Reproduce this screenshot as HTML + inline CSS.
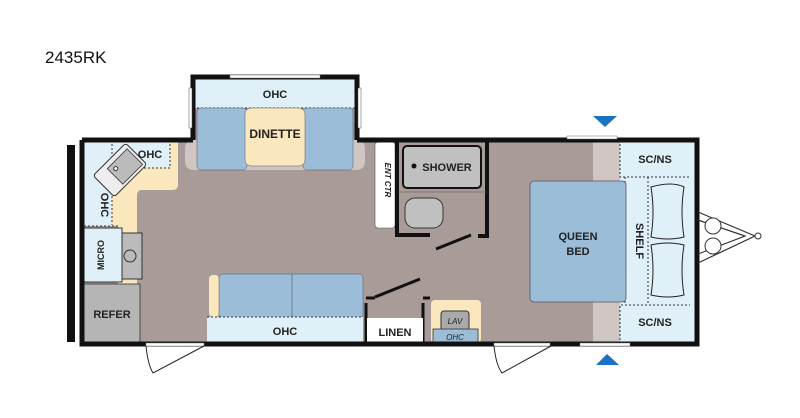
<!DOCTYPE html>
<html><head><meta charset="utf-8"><style>
html,body{margin:0;padding:0;background:#fff;}
svg{display:block;}
text{font-family:"Liberation Sans",Arial,sans-serif;font-weight:bold;fill:#222;}
</style></head><body>
<svg width="800" height="418" viewBox="0 0 800 418" xmlns="http://www.w3.org/2000/svg">
<text x="45" y="63" style="font-weight:normal;font-size:17px;fill:#111">2435RK</text>

<!-- floor -->
<rect x="84" y="140" width="612" height="204" fill="#a99b98"/>
<rect x="193" y="77" width="164" height="66" fill="#a99b98"/>
<rect x="185" y="140" width="180" height="30" rx="8" fill="#cfc5c3"/>
<rect x="193" y="79" width="164" height="29" fill="#dff0f9"/>
<line x1="193" y1="108" x2="357" y2="108" stroke="#333" stroke-width="1" stroke-dasharray="2,2"/>
<text x="275" y="98" font-size="11" text-anchor="middle">OHC</text>
<rect x="197" y="108" width="50" height="62" rx="4" fill="#9bbdd8" stroke="#556" stroke-width="0.5"/>
<rect x="303" y="108" width="50" height="62" rx="4" fill="#9bbdd8" stroke="#556" stroke-width="0.5"/>
<rect x="245" y="108" width="60" height="58" rx="6" fill="#fbe7bd" stroke="#556" stroke-width="0.5"/>
<text x="275" y="138" font-size="12" text-anchor="middle">DINETTE</text>

<!-- kitchen -->
<path d="M112 140 H178 V185 Q178 190 172 190 H142 Q137 190 137 196 V290 H118 V226 H112 Z" fill="#fbe7bd"/>
<rect x="84" y="140" width="28" height="86" fill="#dff0f9"/>
<rect x="112" y="140" width="58" height="28" fill="#dff0f9"/>
<path d="M112 140 V225 M112 168 H170 V140" stroke="#333" stroke-width="1" stroke-dasharray="2,2" fill="none"/>
<line x1="84" y1="226" x2="120" y2="226" stroke="#333" stroke-width="1" stroke-dasharray="2,2"/>
<g transform="rotate(-45 120 170)">
<rect x="97" y="155" width="46" height="30" rx="3" fill="#eee" stroke="#333" stroke-width="1"/>
<rect x="112" y="160" width="28" height="22" fill="#bbb" stroke="#333" stroke-width="0.8"/>
<circle cx="118" cy="166" r="2" fill="#fff" stroke="#333"/>
</g>
<text x="150" y="158" font-size="11" text-anchor="middle">OHC</text>
<text x="101" y="205" font-size="11" text-anchor="middle" transform="rotate(90 101 205)">OHC</text>
<rect x="84" y="228" width="38" height="54" fill="#dff0f9" stroke="#333" stroke-width="1"/>
<text x="104" y="255" font-size="9" text-anchor="middle" transform="rotate(-90 104 255)">MICRO</text>
<rect x="122" y="233" width="20" height="46" fill="#bbb" stroke="#333" stroke-width="1"/>
<circle cx="130" cy="256" r="6" fill="none" stroke="#333"/>
<rect x="84" y="284" width="56" height="58" fill="#b5b5b5" stroke="#333" stroke-width="0.8"/>
<text x="112" y="318" font-size="11" text-anchor="middle">REFER</text>

<!-- sofa -->
<rect x="209" y="275" width="10" height="42" rx="4" fill="#fbe7bd"/>
<rect x="219" y="274" width="144" height="44" rx="4" fill="#9bbdd8" stroke="#556" stroke-width="0.5"/>
<line x1="292" y1="274" x2="292" y2="318" stroke="#556" stroke-width="0.6"/>
<rect x="207" y="317" width="156" height="26" fill="#dff0f9"/>
<line x1="207" y1="317" x2="363" y2="317" stroke="#333" stroke-dasharray="2,2"/>
<text x="285" y="335" font-size="11" text-anchor="middle">OHC</text>

<!-- ent ctr -->
<rect x="375" y="142" width="20" height="86" rx="3" fill="#fff" stroke="#555" stroke-width="0.6"/>
<text x="385" y="180" font-size="8" text-anchor="middle" font-style="italic" transform="rotate(90 385 180)">ENT CTR</text>

<!-- bathroom -->
<path d="M397 140 V235 H430 M487 140 V236 H478" stroke="#111" stroke-width="4" fill="none"/>
<line x1="397" y1="192" x2="487" y2="192" stroke="#555" stroke-width="0.6"/>
<rect x="403" y="146" width="78" height="42" rx="4" fill="#c0c0c0" stroke="#111" stroke-width="2"/>
<circle cx="414" cy="166" r="2.5" fill="#111"/>
<text x="447" y="171" font-size="11" text-anchor="middle">SHOWER</text>
<rect x="405" y="198" width="38" height="30" rx="10" fill="#c0c0c0" stroke="#333"/>
<line x1="436" y1="249" x2="471" y2="235" stroke="#111" stroke-width="3"/>
<!-- linen / lav -->
<path d="M366 303 V344 M366 298 H375 M423 303 V344 M423 298 H430" stroke="#111" stroke-width="3" fill="none"/>
<line x1="375" y1="297" x2="420" y2="279" stroke="#111" stroke-width="3"/>
<rect x="367" y="318" width="56" height="25" fill="#fff"/>
<text x="395" y="336" font-size="11" text-anchor="middle">LINEN</text>
<rect x="431" y="300" width="50" height="43" rx="4" fill="#fbe7bd"/>
<rect x="441" y="311" width="28" height="20" rx="3" fill="#aaa" stroke="#333"/>
<text x="455" y="324" font-size="8" text-anchor="middle" style="font-weight:normal;font-style:italic">LAV</text>
<rect x="433" y="329" width="45" height="14" fill="#9bbdd8" stroke="#333" stroke-width="0.8"/>
<text x="455" y="340" font-size="8" text-anchor="middle" style="font-weight:normal;font-style:italic">OHC</text>

<!-- bedroom -->
<rect x="593" y="140" width="27" height="204" fill="#cfc5c3"/>
<rect x="620" y="140" width="76" height="204" fill="#dff0f9"/>
<path d="M620 140 V177 H690 M620 344 V305 H690 M625 177 V305 M648 177 V305" stroke="#333" stroke-dasharray="2,2" fill="none"/>
<rect x="530" y="181" width="96" height="121" rx="4" fill="#9bbdd8" stroke="#556" stroke-width="0.8"/>
<text x="578" y="240" font-size="11" text-anchor="middle">QUEEN</text>
<text x="578" y="255" font-size="11" text-anchor="middle">BED</text>
<text x="636" y="241" font-size="11" text-anchor="middle" transform="rotate(90 636 241)">SHELF</text>
<path d="M651 187 Q672 181 684 187 Q680 212 684 237 Q668 241 651 237 Q655 212 651 187Z" fill="none" stroke="#222"/>
<path d="M651 245 Q668 241 684 245 Q680 270 684 295 Q668 299 651 295 Q655 270 651 245Z" fill="none" stroke="#222"/>
<text x="655" y="163" font-size="11" text-anchor="middle">SC/NS</text>
<text x="655" y="326" font-size="11" text-anchor="middle">SC/NS</text>

<!-- walls -->
<path d="M193 140 V77 H357 V140" stroke="#111" stroke-width="5" fill="none"/>
<path d="M82 140 H193 M357 140 H697 V344 H82 V140" stroke="#111" stroke-width="5" fill="none"/>
<rect x="67" y="145" width="8" height="197" fill="#111"/>
<rect x="189" y="88" width="3" height="40" fill="#fff" stroke="#555" stroke-width="0.5"/>
<rect x="358" y="88" width="3" height="40" fill="#fff" stroke="#555" stroke-width="0.5"/>
<rect x="230" y="75" width="90" height="3" fill="#fff" stroke="#777" stroke-width="0.5"/>
<rect x="567" y="136" width="50" height="3" fill="#fff" stroke="#777" stroke-width="0.5"/>
<rect x="580" y="343" width="50" height="3" fill="#fff" stroke="#777" stroke-width="0.5"/>
<rect x="146" y="343" width="58" height="3" fill="#fff" stroke="#777" stroke-width="0.5"/>
<rect x="494" y="343" width="56" height="3" fill="#fff" stroke="#777" stroke-width="0.5"/>
<path d="M146 346 Q148 365 153 373 L204 346" stroke="#222" fill="none"/>
<path d="M494 346 Q496 365 502 373 L551 346" stroke="#222" fill="none"/>
<path d="M698 212 L755 236 L698 263 M698 220 L745 236 L698 254" stroke="#333" fill="none" stroke-width="1.2"/>
<circle cx="713" cy="226" r="8" fill="#fff" stroke="#333"/>
<circle cx="713" cy="246" r="8" fill="#fff" stroke="#333"/>
<circle cx="758" cy="236" r="3" fill="#fff" stroke="#333"/>
<polygon points="593,116 617,116 605,127" fill="#1a73c0"/>
<polygon points="596,365 619,365 607,354" fill="#1a73c0"/>
</svg>
</body></html>
